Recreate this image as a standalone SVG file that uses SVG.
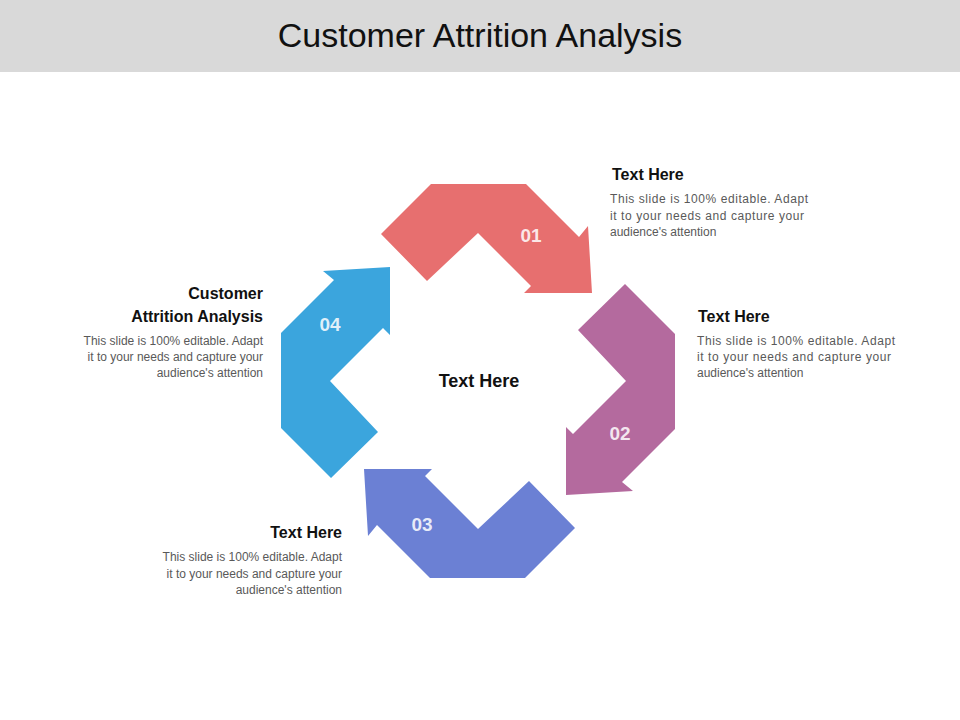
<svg xmlns="http://www.w3.org/2000/svg" width="960" height="720" viewBox="0 0 960 720">
<style>
.h{font-family:"Liberation Sans",Arial,sans-serif;font-weight:bold;font-size:16px;fill:#111}
.b{font-family:"Liberation Sans",Arial,sans-serif;font-size:12px;fill:#595959}
.n{font-family:"Liberation Sans",Arial,sans-serif;font-weight:bold;font-size:19px;fill:#fff;fill-opacity:0.85;text-anchor:middle}
.r{text-anchor:end}
</style>
<rect width="960" height="720" fill="#fff"/>
<rect width="960" height="72" fill="#D9D9D9"/>
<text x="480" y="47" text-anchor="middle" font-family="Liberation Sans,Arial,sans-serif" font-size="34" fill="#111">Customer Attrition Analysis</text>
<g id="connectors"></g>
<g id="arrow01"><polygon fill="#E76F6F" points="381,234 431,184 526,184 579,237 588,226 592,293 524,293 531,286 478,233 427,281"/><text class="n" x="531" y="242">01</text></g>
<g id="arrow02"><polygon fill="#B46A9E" points="625,284 675,334 675,429 622,482 633,491 566,495 566,427 573,434 626,381 578,330"/><text class="n" x="620" y="440">02</text></g>
<g id="arrow03"><polygon fill="#6B80D4" points="575,528 525,578 430,578 377,525 368,536 364,469 432,469 425,476 478,529 529,481"/><text class="n" x="422" y="531">03</text></g>
<g id="arrow04"><polygon fill="#3BA5DD" points="331,478 281,428 281,333 334,280 323,271 390,267 390,335 383,328 330,381 378,432"/><text class="n" x="330" y="331">04</text></g>
<g id="center"><text x="479" y="387" text-anchor="middle" font-family="Liberation Sans,Arial,sans-serif" font-weight="bold" font-size="18" fill="#111">Text Here</text></g>
<g id="t1"><text class="h" x="612" y="180">Text Here</text>
<text class="b" x="610" y="203" textLength="198">This slide is 100% editable. Adapt</text>
<text class="b" x="610" y="220" textLength="194">it to your needs and capture your</text>
<text class="b" x="610" y="236">audience's attention</text></g>
<g id="t2"><text class="h" x="698" y="322">Text Here</text>
<text class="b" x="697" y="345" textLength="198">This slide is 100% editable. Adapt</text>
<text class="b" x="697" y="361" textLength="194">it to your needs and capture your</text>
<text class="b" x="697" y="377">audience's attention</text></g>
<g id="t3"><text class="h r" x="342" y="538">Text Here</text>
<text class="b r" x="342" y="561">This slide is 100% editable. Adapt</text>
<text class="b r" x="342" y="578">it to your needs and capture your</text>
<text class="b r" x="342" y="594">audience's attention</text></g>
<g id="t4"><text class="h r" x="263" y="299">Customer</text>
<text class="h r" x="263" y="322">Attrition Analysis</text>
<text class="b r" x="263" y="345">This slide is 100% editable. Adapt</text>
<text class="b r" x="263" y="361">it to your needs and capture your</text>
<text class="b r" x="263" y="377">audience's attention</text></g>
</svg>
